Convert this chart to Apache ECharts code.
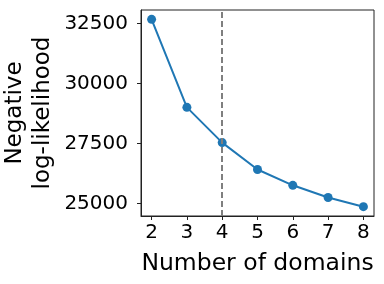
<!DOCTYPE html>
<html><head><meta charset="utf-8">
<script src="https://cdn.jsdelivr.net/npm/echarts@6/dist/echarts.min.js"></script>
<style>html,body{margin:0;padding:0;background:#fff}#c{width:384px;height:284px}</style>
</head><body><div id="c"></div>
<script>
const domains = [2, 3, 4, 5, 6, 7, 8];
const nll = [32667, 29000, 27530, 26410, 25750, 25240, 24860];
const xTicks = [2, 3, 4, 5, 6, 7, 8];
const yTicks = [25000, 27500, 30000, 32500];
const chosen = 4;

const chart = echarts.init(document.getElementById('c'), null, {renderer: 'canvas'});
const font = 'DejaVu Sans';
chart.setOption({
  animation: false,
  grid: {left: 141, right: 10, top: 10, bottom: 68, show: true, borderColor: '#222', borderWidth: 1,
         containLabel: false, outerBoundsMode: 'none'},
  xAxis: {
    type: 'value', min: 1.7, max: 8.3,
    name: 'Number of domains', nameLocation: 'middle', nameGap: 36,
    nameTextStyle: {fontFamily: font, fontSize: 23.5, color: '#000'},
    axisLine: {show: true, lineStyle: {color: '#222'}},
    axisTick: {show: true, length: 4, lineStyle: {color: '#222'}, customValues: xTicks},
    axisLabel: {fontFamily: font, fontSize: 20, color: '#000', margin: 7, customValues: xTicks, formatter: v => String(v)},
    splitLine: {show: false}
  },
  yAxis: {
    type: 'value', min: 24471, max: 33057,
    name: 'Negative\nlog-likelihood', nameLocation: 'middle', nameGap: 84, nameRotate: 90,
    nameMoveOverlap: false,
    nameTextStyle: {fontFamily: font, fontSize: 23, color: '#000', lineHeight: 28},
    axisLine: {show: true, lineStyle: {color: '#222'}},
    axisTick: {show: true, length: 4, lineStyle: {color: '#222'}, customValues: yTicks},
    axisLabel: {fontFamily: font, fontSize: 20, color: '#000', margin: 13, customValues: yTicks, formatter: v => String(v)},
    splitLine: {show: false}
  },
  series: [{
    type: 'line',
    data: domains.map((d, i) => [d, nll[i]]),
    symbol: 'circle', symbolSize: 9,
    itemStyle: {color: '#1f77b4'},
    lineStyle: {color: '#1f77b4', width: 2},
    markLine: {
      silent: true, symbol: 'none', label: {show: false},
      lineStyle: {color: '#7f7f7f', type: [6, 3], width: 2},
      data: [{xAxis: chosen}]
    }
  }]
});
</script></body></html>
